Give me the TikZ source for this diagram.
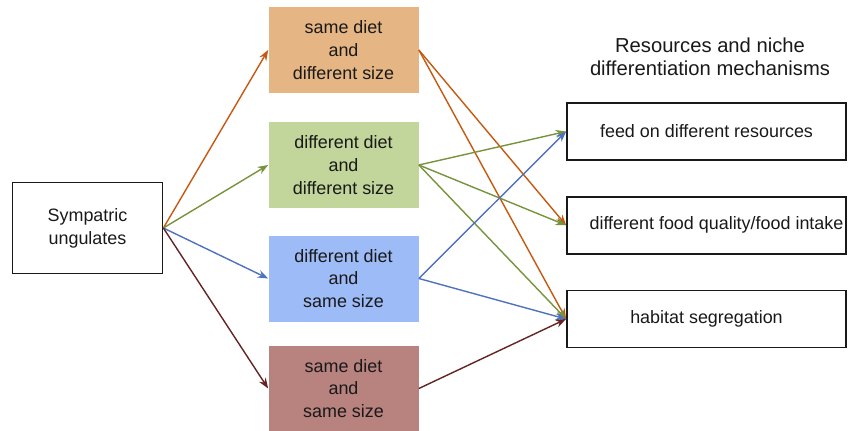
\documentclass[tikz,border=0pt]{standalone}
\usepackage{fontspec}
\setmainfont{Liberation Sans}
\usetikzlibrary{arrows.meta, positioning}
\usepackage{xcolor}
\definecolor{tanbox}{RGB}{229, 182, 131}
\definecolor{greenbox}{RGB}{194, 213, 154}
\definecolor{bluebox}{RGB}{157, 187, 246}
\definecolor{brownbox}{RGB}{184, 130, 127}
\definecolor{tanline}{RGB}{198, 89, 17}
\definecolor{greenline}{RGB}{119, 147, 60}
\definecolor{blueline}{RGB}{79, 114, 189}
\definecolor{brownline}{RGB}{99, 37, 35}

\begin{document}
\begin{tikzpicture}[
  every node/.style={font=\fontsize{10.2}{13}\selectfont, text=black!90},
  group/.style={rectangle, fill=#1, minimum width=3cm, minimum height=1.72cm, align=center},
  mech/.style={rectangle, draw=black!90, line width=1pt, inner sep=0pt,
               minimum width=5.58cm, minimum height=1.14cm},
  arr/.style={-{Stealth[length=6pt, width=4.5pt]}, line width=0.8pt, draw=#1},
  node distance=0.7cm
]
\useasboundingbox (0,0) rectangle (16.98,-8.6);

% source
\node[rectangle, draw=black!90, line width=1pt, minimum width=3cm, minimum height=1.82cm,
      align=center] (ung) at (1.75,-4.56) {Sympatric\\ungulates};

% diet / size groups
\node[group=tanbox]   (g1) at (6.87,-1.0)  {same diet\\and\\different size};
\node[group=greenbox] (g2) at (6.87,-3.3)  {different diet\\and\\different size};
\node[group=bluebox]  (g3) at (6.87,-5.57) {different diet\\and\\same size};
\node[group=brownbox] (g4) at (6.87,-7.77) {same diet\\and\\same size};

% mechanisms
\node[align=center, font=\fontsize{11.5}{13}\selectfont] (title) at (14.2,-1.14)
  {Resources and niche\\differentiation mechanisms};
\node[mech] (m1) at (14.13,-2.63) {feed on different resources};
\node[mech, below=of m1] (m2) {\hspace*{0.4cm}different food quality/food intake};
\node[mech, below=of m2] (m3) {habitat segregation};

\draw[arr=tanline]   (ung.east) -- (g1.west);
\draw[arr=greenline] (ung.east) -- (g2.west);
\draw[arr=blueline]  (ung.east) -- (g3.west);
\draw[arr=brownline] (ung.east) -- (g4.west);

\draw[arr=tanline]   (g1.east) -- (m2.west);
\draw[arr=tanline]   (g1.east) -- (m3.west);
\draw[arr=greenline] (g2.east) -- (m1.west);
\draw[arr=greenline] (g2.east) -- (m2.west);
\draw[arr=greenline] (g2.east) -- (m3.west);
\draw[arr=blueline]  (g3.east) -- (m1.west);
\draw[arr=blueline]  (g3.east) -- (m3.west);
\draw[arr=brownline] (g4.east) -- (m3.west);
\end{tikzpicture}
\end{document}
